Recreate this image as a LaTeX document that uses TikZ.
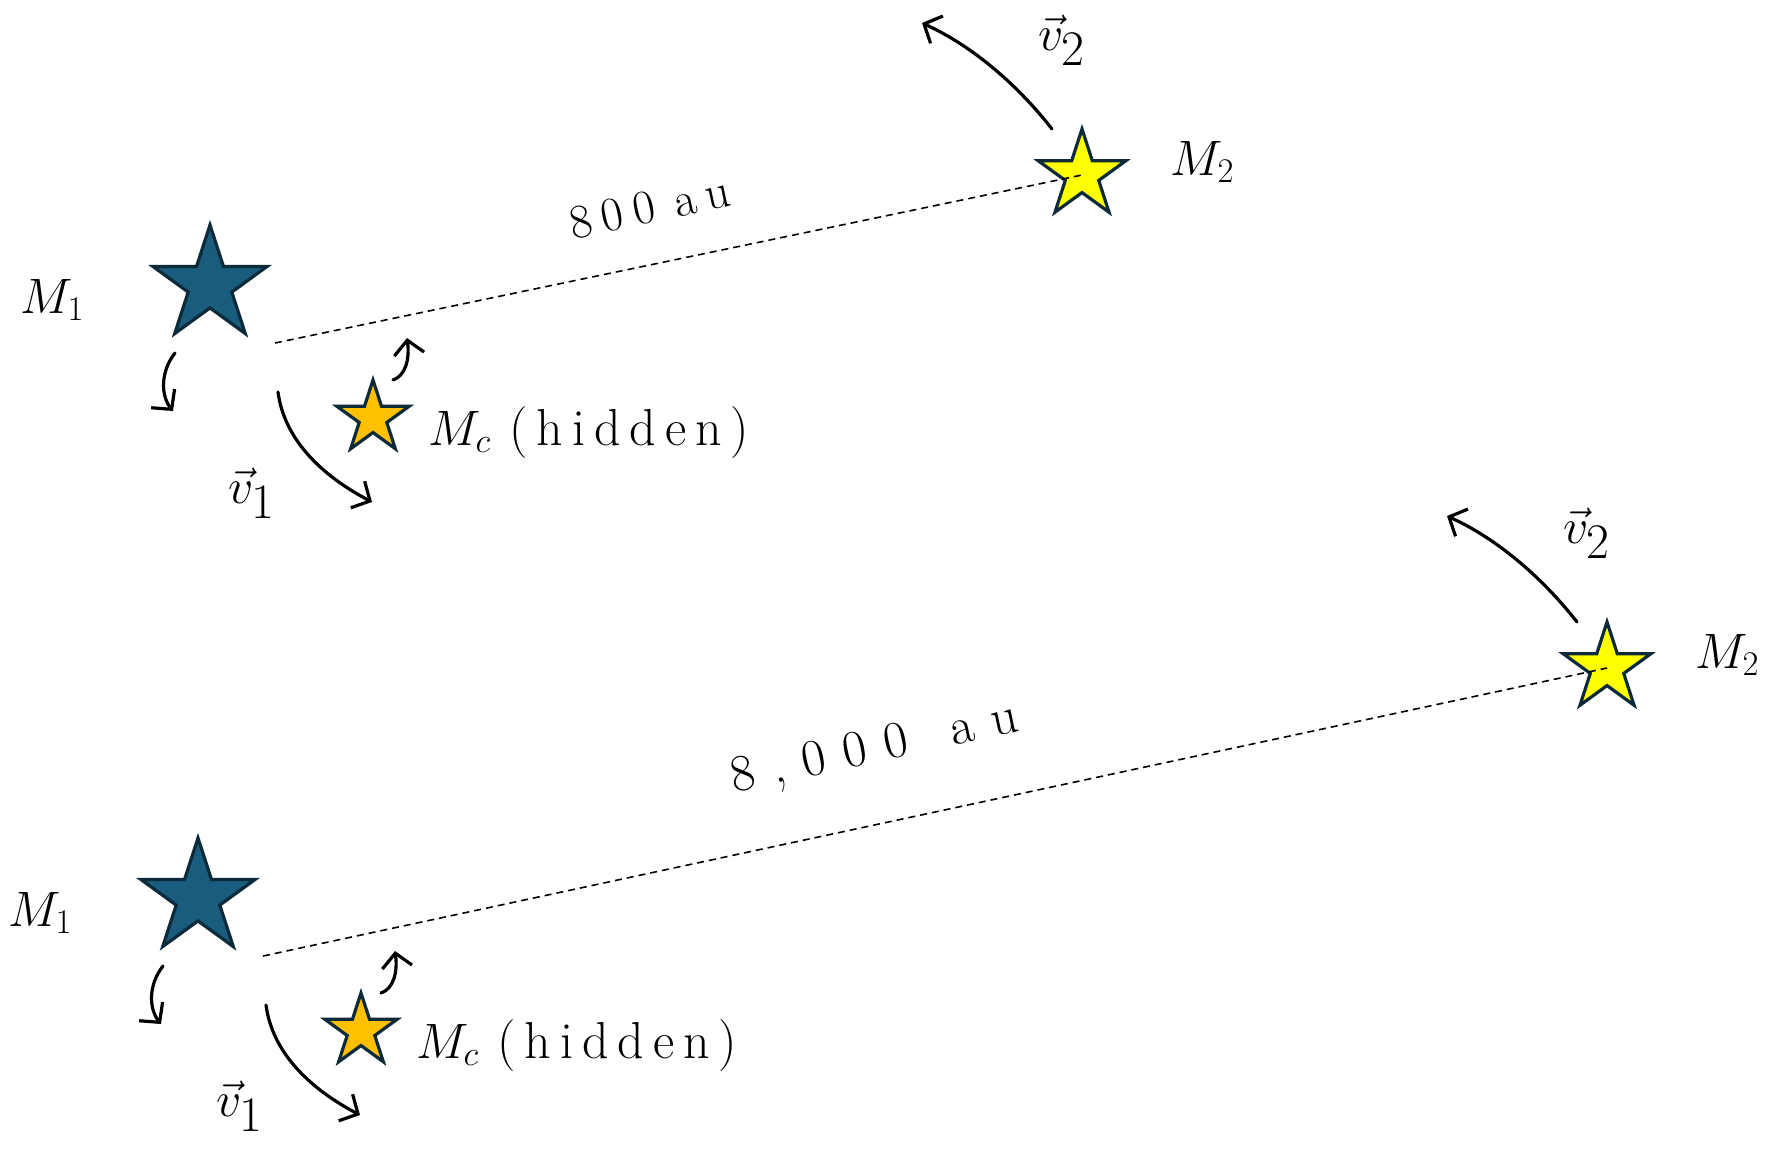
\documentclass[tikz,border=0pt]{standalone}
\usepackage{fontspec}
\usetikzlibrary{shapes.geometric,arrows.meta}
\definecolor{tealstar}{HTML}{1A5C7D}
\definecolor{staredge}{HTML}{0C2A3A}
\definecolor{yelstar}{HTML}{FFFF00}
\definecolor{goldstar}{HTML}{FFC000}
\newcommand\hiddenword{{\fontsize{26}{30}\selectfont(\kern4.5pt h\kern4.5pt i\kern4.5pt d\kern4.5pt d\kern4.5pt e\kern4.5pt n\kern4.5pt)}}
\begin{document}
\begin{tikzpicture}[x=0.5pt,y=-0.5pt,
  starnode/.style={star,star points=5,star point ratio=2.618,draw=staredge,line width=1.6pt,inner sep=0pt},
  bigstar/.style={starnode,fill=tealstar,minimum size=60pt},
  mtwostar/.style={starnode,fill=yelstar,minimum size=46pt},
  mcstar/.style={starnode,fill=goldstar,minimum size=38pt},
  orbit/.style={line width=1.6pt,line cap=round,-{Straight Barb[length=7pt,width=15pt,line width=1.6pt]}},
  sep/.style={dash pattern=on 3.5pt off 2.5pt,line width=0.8pt},
  hand/.style={font=\fontsize{24}{28}\selectfont,inner sep=0pt},
  vlab/.style={font=\fontsize{38}{42}\selectfont,inner sep=0pt},
]
\useasboundingbox (0,0) rectangle (1780,1153);

% ---------------- top panel ----------------
\node[bigstar] (M1a) at (210,285) {};
\node[mcstar] (Mca) at (373,418) {};
\node[mtwostar] (M2a) at (1082,175) {};
\coordinate (d1a) at (275,343);
\draw[sep] (d1a) -- (M2a.center);

\node[hand,anchor=base west] (LM1a) at (20,313) {$M_1$};
\node[hand,anchor=base west] (LMca) at (428,445) {$M_c$\kern9pt\hiddenword};
\node[hand,anchor=base west] (LM2a) at (1170,175) {$M_2$};
\node[vlab] (Lv1a) at (252,493) {$\vec{v}_1$};
\node[vlab] (Lv2a) at (1062,40) {$\vec{v}_2$};
\node[hand,rotate=12] (Lda) at (650,207) {8\kern5pt0\kern5pt0\kern10pt a\kern5pt u};

\coordinate (a1sa) at (1052,129); \coordinate (a1ea) at (922,23);
\draw[orbit] (a1sa) .. controls (1020,88) and (975,47) .. (a1ea);
\coordinate (a2sa) at (278,392); \coordinate (a2ea) at (372,502);
\draw[orbit] (a2sa) .. controls (285,445) and (330,480) .. (a2ea);
\coordinate (a3sa) at (175,353); \coordinate (a3ea) at (173,411);
\draw[orbit] (a3sa) .. controls (160,372) and (161,396) .. (a3ea);
\coordinate (a4sa) at (393,380); \coordinate (a4ea) at (407,338);
\draw[orbit] (a4sa) .. controls (405,376) and (410,360) .. (a4ea);

% ---------------- bottom panel ----------------
\begin{scope}[shift={(-12,613)}]
\node[bigstar] (M1b) at (210,285) {};
\node[mcstar] (Mcb) at (373,418) {};
\coordinate (d1b) at (275,343);
\node[hand,anchor=base west] (LM1b) at (20,313) {$M_1$};
\node[hand,anchor=base west] (LMcb) at (428,445) {$M_c$\kern9pt\hiddenword};
\node[vlab] (Lv1b) at (252,493) {$\vec{v}_1$};
\coordinate (a2sb) at (278,392); \coordinate (a2eb) at (372,502);
\draw[orbit] (a2sb) .. controls (285,445) and (330,480) .. (a2eb);
\coordinate (a3sb) at (175,353); \coordinate (a3eb) at (173,411);
\draw[orbit] (a3sb) .. controls (160,372) and (161,396) .. (a3eb);
\coordinate (a4sb) at (393,380); \coordinate (a4eb) at (407,338);
\draw[orbit] (a4sb) .. controls (405,376) and (410,360) .. (a4eb);
\end{scope}

\begin{scope}[shift={(525,493)}]
\node[mtwostar] (M2b) at (1082,175) {};
\node[hand,anchor=base west] (LM2b) at (1170,175) {$M_2$};
\node[vlab] (Lv2b) at (1062,40) {$\vec{v}_2$};
\coordinate (a1sb) at (1052,129); \coordinate (a1eb) at (922,23);
\draw[orbit] (a1sb) .. controls (1020,88) and (975,47) .. (a1eb);
\end{scope}

\draw[sep] (d1b) -- (M2b.center);
\node[hand,font=\fontsize{26}{30}\selectfont,rotate=12] (Ldb) at (875,750) {8\kern9pt,\kern9pt0\kern9pt0\kern9pt0\kern22pt a\kern9pt u};
\end{tikzpicture}
\end{document}
